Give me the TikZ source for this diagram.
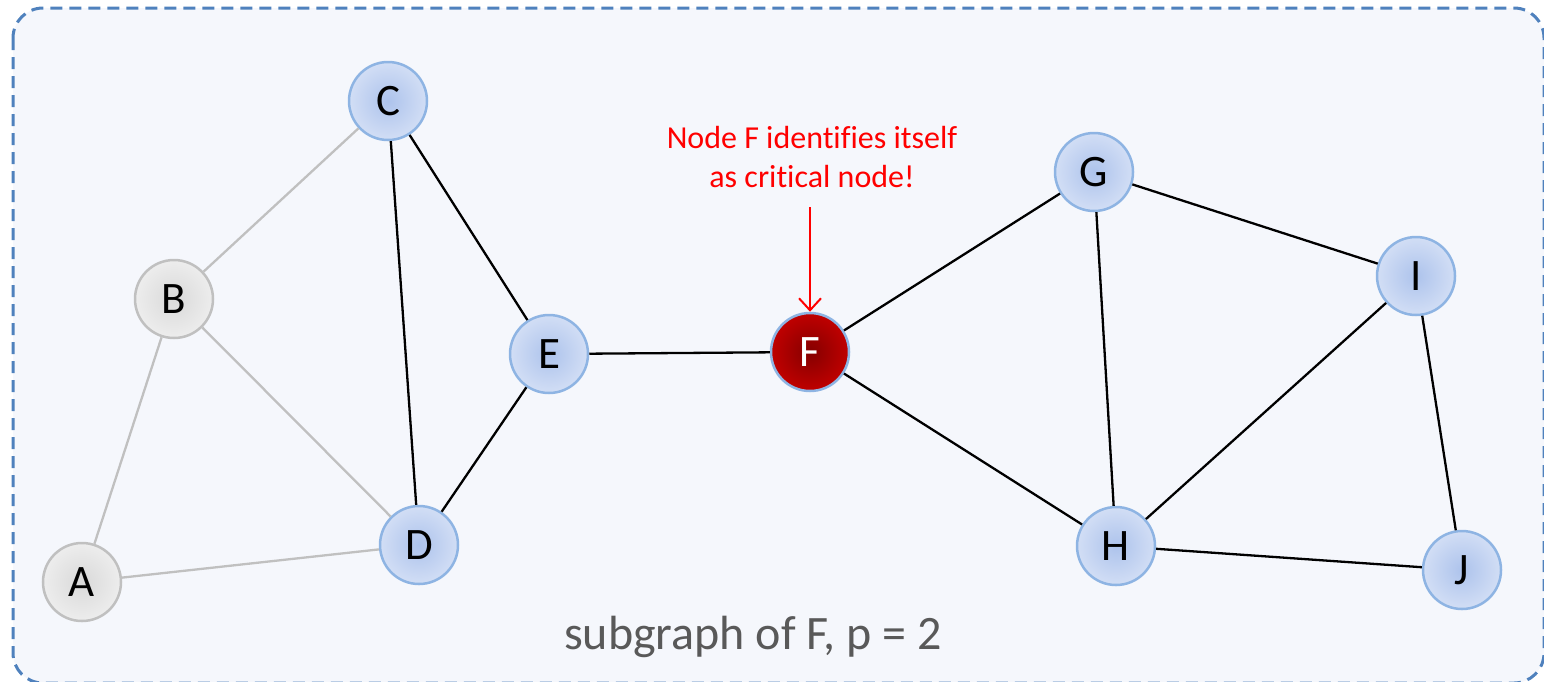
\documentclass[tikz,border=0pt]{standalone}
\usepackage{fontspec}
\setmainfont[Ligatures=NoCommon]{Carlito}
\usetikzlibrary{arrows.meta}
\definecolor{bgpanel}{HTML}{F5F7FC}
\definecolor{panelline}{HTML}{4F81BD}
\definecolor{nodeline}{HTML}{8EB4E3}
\definecolor{bluein}{HTML}{ADC3EC}
\definecolor{blueout}{HTML}{D2DEF5}
\definecolor{grayin}{HTML}{D9D9D9}
\definecolor{grayout}{HTML}{EDEDED}
\definecolor{grayline}{HTML}{C0C0C0}
\definecolor{redin}{HTML}{850000}
\definecolor{redout}{HTML}{C00000}
\definecolor{captiongray}{HTML}{595959}
\begin{document}
\begin{tikzpicture}[x=1pt,y=-1pt,
  vertex/.style={circle,minimum size=78pt,inner sep=0pt,line width=2.5pt,
    font=\fontsize{45}{45}\selectfont},
  activenode/.style={vertex,draw=nodeline,inner color=bluein,outer color=blueout},
  passivenode/.style={vertex,draw=grayline,inner color=grayin,outer color=grayout},
  critnode/.style={vertex,draw=nodeline,inner color=redin,outer color=redout,text=white},
  link/.style={line width=2.3pt,black},
  faded/.style={line width=2.3pt,grayline}]
\useasboundingbox (0,0) rectangle (1544,681);
\draw[panelline,fill=bgpanel,line width=3pt,dash pattern=on 12pt off 7pt,rounded corners=30pt]
  (13,8) rectangle (1544,683);

% vertices
\node[passivenode] (A) at (82,582) {A};
\node[passivenode] (B) at (174,299) {B};
\node[activenode] (C) at (388,101) {C};
\node[activenode] (D) at (419,545) {D};
\node[activenode] (E) at (549,354) {E};
\node[critnode] (F) at (810,352) {F};
\node[activenode] (G) at (1094,172) {G};
\node[activenode] (H) at (1116,546) {H};
\node[activenode] (I) at (1416,276) {I};
\node[activenode] (J) at (1462,570) {J};

% edges outside the subgraph
\draw[faded] (A) -- (B);
\draw[faded] (A) -- (D);
\draw[faded] (B) -- (C);
\draw[faded] (B) -- (D);

% edges of the subgraph
\draw[link] (C) -- (D);
\draw[link] (C) -- (E);
\draw[link] (D) -- (E);
\draw[link] (E) -- (F);
\draw[link] (F) -- (G);
\draw[link] (F) -- (H);
\draw[link] (G) -- (H);
\draw[link] (G) -- (I);
\draw[link] (H) -- (I);
\draw[link] (H) -- (J);
\draw[link] (I) -- (J);

% annotation
\node[text=red,align=center,font=\fontsize{32}{39}\selectfont] (note) at (812,157)
  {Node F identifies itself\\as critical node!};
\coordinate (arrowtop) at (810,207);
\draw[red,line width=2pt,-{Straight Barb[length=12pt,width=22pt,line width=2pt]}]
  (arrowtop) -- (F.north);

\node[text=captiongray,font=\fontsize{48}{48}\selectfont] (caption) at (753,637)
  {subgraph of F, p = 2};
\end{tikzpicture}
\end{document}
